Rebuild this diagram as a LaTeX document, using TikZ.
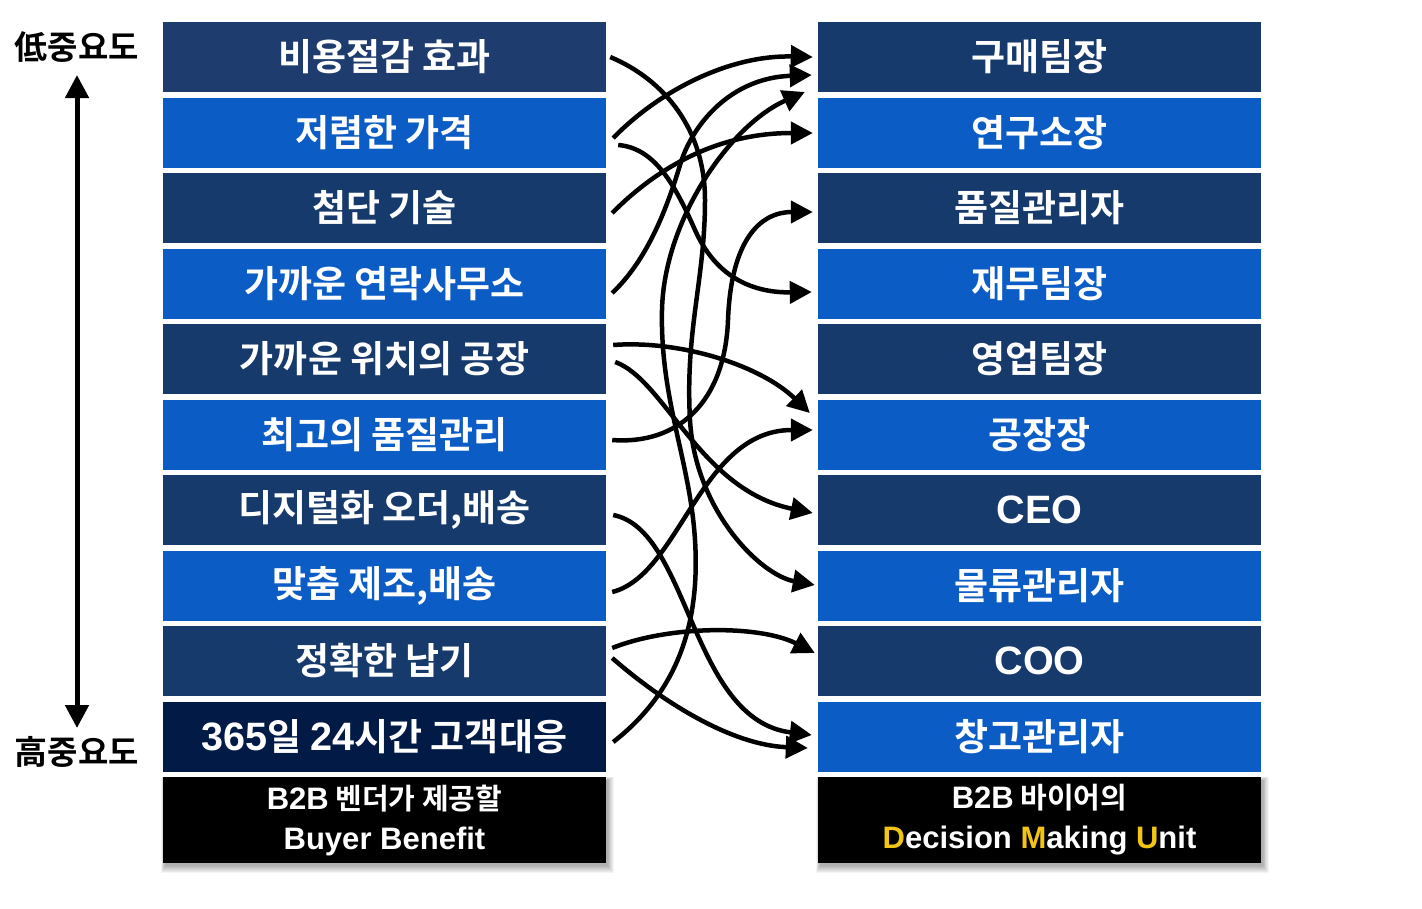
\documentclass[tikz,border=0pt]{standalone}
\usepackage{fontspec}
\setmainfont{Noto Sans CJK KR}[BoldFont={Noto Sans CJK KR Bold}]
\newfontfamily\lat{Liberation Sans}[Scale=1.07]
\usetikzlibrary{arrows.meta,calc,backgrounds}
\definecolor{dk}{RGB}{23,58,108}
\definecolor{dkA}{RGB}{31,60,111}
\definecolor{dkZ}{RGB}{2,26,70}
\definecolor{lt}{RGB}{11,92,197}
\definecolor{gold}{RGB}{242,196,20}
\begin{document}
\begin{tikzpicture}[x=1pt,y=-1pt,
  box/.style={minimum width=443pt,minimum height=70pt,inner sep=0pt,text=white,
    font=\bfseries\fontsize{37}{40}\selectfont},
  bbox/.style={fill=black,minimum width=443pt,minimum height=86pt,inner sep=0pt,text=white,
    align=center,font=\bfseries\fontsize{29}{40}\selectfont},
  side/.style={text=black,inner sep=0pt,font=\bfseries\fontsize{33}{34}\selectfont},
  conn/.style={line width=4.5pt,-{Triangle[length=22pt,width=22pt]}},
  dbl/.style={line width=5pt,{Triangle[length=23pt,width=23pt]}-{Triangle[length=23pt,width=23pt]}}]
\useasboundingbox (0,0) rectangle (1422,908);
% left column
\node[box,fill=dkA] (L1) at (384.5,57) {비용절감 효과};
\node[box,fill=lt] (L2) at (384.5,132.5) {저렴한 가격};
\node[box,fill=dk] (L3) at (384.5,208) {첨단 기술};
\node[box,fill=lt] (L4) at (384.5,283.5) {가까운 연락사무소};
\node[box,fill=dk] (L5) at (384.5,359) {가까운 위치의 공장};
\node[box,fill=lt] (L6) at (384.5,434.5) {최고의 품질관리};
\node[box,fill=dk] (L7) at (384.5,510) {디지털화 오더,배송};
\node[box,fill=lt] (L8) at (384.5,585.5) {맞춤 제조,배송};
\node[box,fill=dk] (L9) at (384.5,661) {정확한 납기};
\node[box,fill=dkZ] (L10) at (384.5,736.5) {{\lat 365}일 {\lat 24}시간 고객대응};
\node[bbox] (LB) at (384.5,820) {{\lat B2B} 벤더가 제공할\\{\lat Buyer Benefit}};
% right column
\node[box,fill=dk] (R1) at (1039.5,57) {구매팀장};
\node[box,fill=lt] (R2) at (1039.5,132.5) {연구소장};
\node[box,fill=dk] (R3) at (1039.5,208) {품질관리자};
\node[box,fill=lt] (R4) at (1039.5,283.5) {재무팀장};
\node[box,fill=dk] (R5) at (1039.5,359) {영업팀장};
\node[box,fill=lt] (R6) at (1039.5,434.5) {공장장};
\node[box,fill=dk] (R7) at (1039.5,510) {\lat CEO};
\node[box,fill=lt] (R8) at (1039.5,585.5) {물류관리자};
\node[box,fill=dk] (R9) at (1039.5,661) {\lat COO};
\node[box,fill=lt] (R10) at (1039.5,736.5) {창고관리자};
\node[bbox] (RB) at (1039.5,820) {{\lat B2B} 바이어의\\{\lat\color{gold}D}{\lat ecision }{\lat\color{gold}M}{\lat aking }{\lat\color{gold}U}{\lat nit}};
% shadows
\begin{scope}[on background layer]
  \fill[white] (0,0) rectangle (1422,908);
  \foreach \s in {1,...,8}{
    \fill[black,opacity=0.045] ($(LB.north west)+(3-0.6*\s,4-0.5*\s)$) rectangle ($(LB.south east)+(1+0.8*\s,2+\s)$);
    \fill[black,opacity=0.045] ($(RB.north west)+(3-0.6*\s,4-0.5*\s)$) rectangle ($(RB.south east)+(1+0.8*\s,2+\s)$);
  }
\end{scope}
% importance scale
\node[side] (lo) at (77,47) {低중요도};
\node[side] (hi) at (77,752) {高중요도};
\coordinate (atop) at (77,75);
\coordinate (abot) at (77,728);
\draw[dbl] (atop) -- (abot);
% connectors
\draw[conn] ($(L1.east)+(4,0)$) .. controls (665,80) and (705,130) .. (705,200)
  .. controls (705,280) and (685,330) .. (690,420)
  .. controls (695,510) and (760,575) .. ($(R8.west)+(-3,-0.5)$);
\draw[conn] ($(L2.east)+(7,5.5)$) .. controls (660,90) and (730,55) .. ($(R1.west)+(-5,0)$);
\draw[conn] ($(L2.east)+(12,12.5)$) .. controls (655,148) and (675,185) .. (695,230)
  .. controls (715,275) and (750,293) .. ($(R4.west)+(-6,8.5)$);
\draw[conn] ($(L3.east)+(6,5)$) .. controls (660,165) and (720,133) .. ($(R2.west)+(-5,0.5)$);
\draw[conn] ($(L4.east)+(6,9.5)$) .. controls (645,262) and (665,215) .. (680,165)
  .. controls (692,125) and (730,78) .. ($(R1.west)+(-6,18)$);
\draw[conn] ($(L5.east)+(7,-14)$) .. controls (680,340) and (760,365) .. ($(R6.west)+(-8,-21.5)$);
\draw[conn] ($(L5.east)+(9,3)$) .. controls (665,380) and (700,490) .. ($(R7.west)+(-5,3)$);
\draw[conn] ($(L6.east)+(6,5.5)$) .. controls (680,445) and (725,400) .. (728,320)
  .. controls (731,240) and (760,212) .. ($(R3.west)+(-5,4)$);
\draw[conn] ($(L7.east)+(7,5)$) .. controls (690,530) and (690,720) .. ($(R10.west)+(-6,-1.5)$);
\draw[conn] ($(L8.east)+(6,6.5)$) .. controls (680,575) and (700,430) .. ($(R6.west)+(-5,-4.5)$);
\draw[conn] ($(L9.east)+(6,-13)$) .. controls (670,625) and (760,625) .. ($(R9.west)+(-3,-8)$);
\draw[conn] ($(L9.east)+(6,-3)$) .. controls (660,700) and (730,745) .. ($(R10.west)+(-10,11.5)$);
\draw[conn] ($(L10.east)+(7,5.5)$) .. controls (680,690) and (700,620) .. (695,540)
  .. controls (690,460) and (660,400) .. (662,310)
  .. controls (664,220) and (730,125) .. ($(R1.west)+(-13,35)$);
\end{tikzpicture}
\end{document}
